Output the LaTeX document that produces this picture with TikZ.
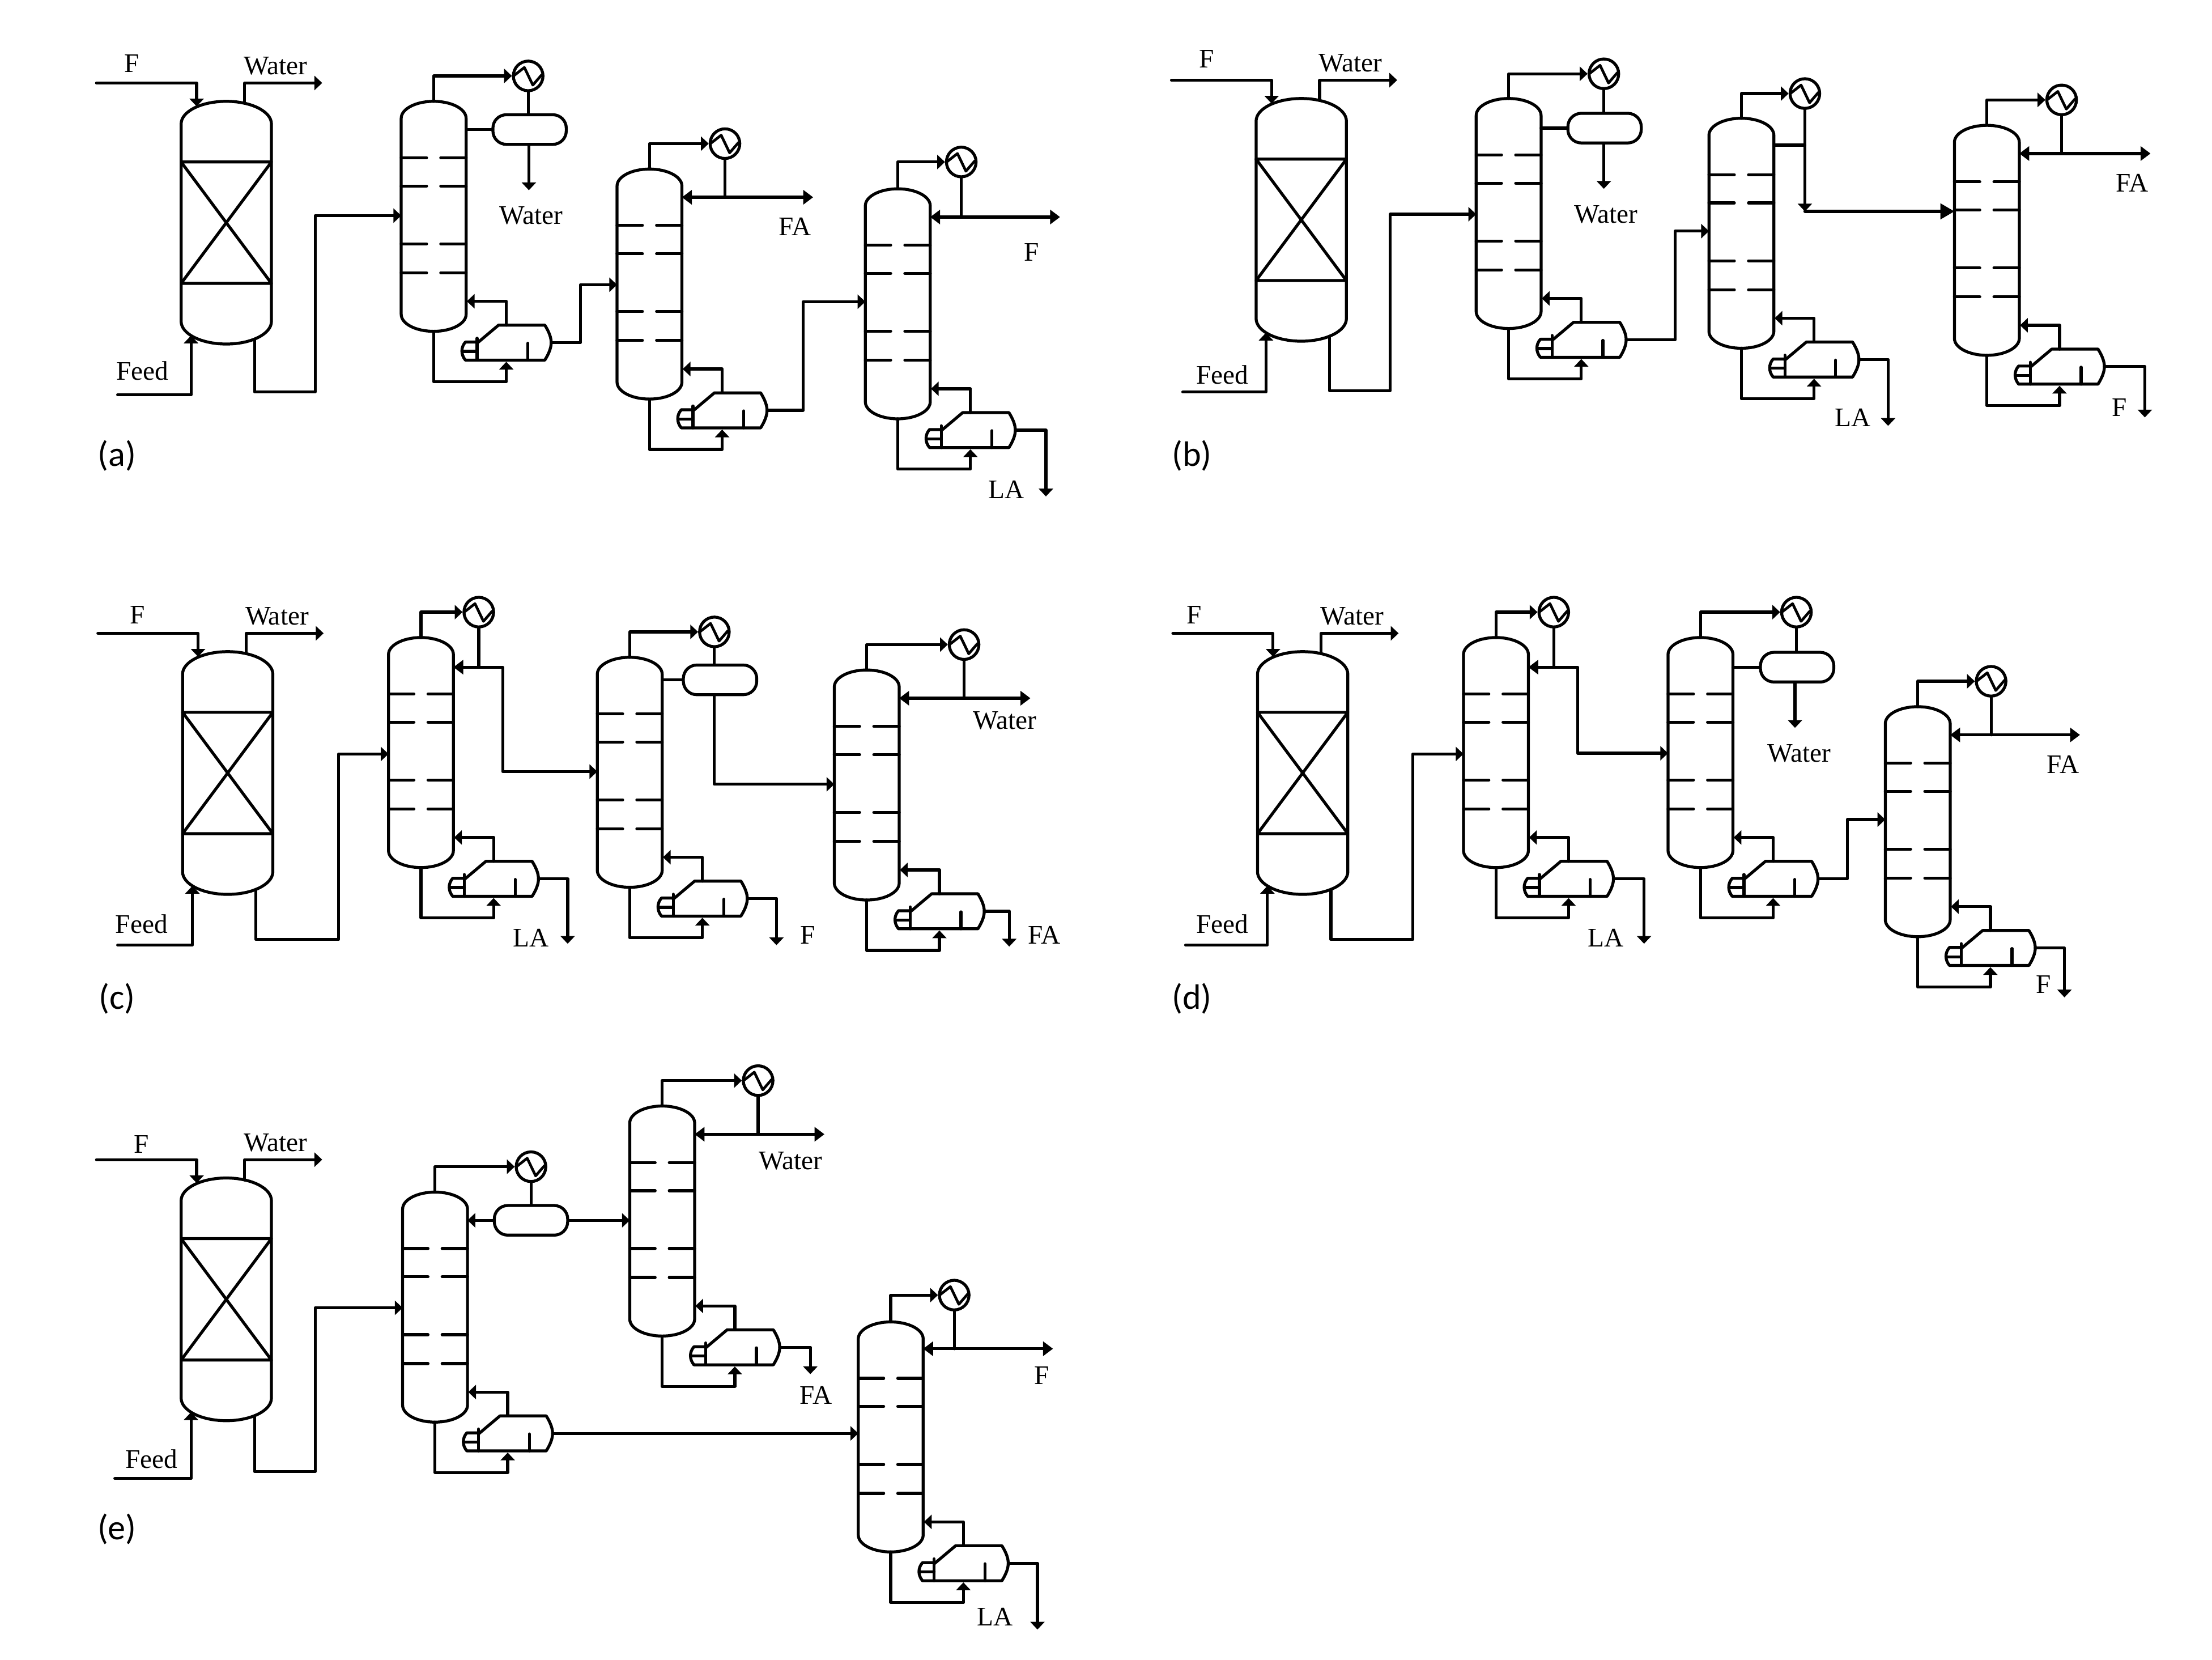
\documentclass[tikz,border=0pt]{standalone}
\usepackage{fontspec}
\setmainfont{Liberation Serif}
\newfontfamily\panelfont{Carlito}
\usetikzlibrary{arrows.meta}
\tikzset{
  pipe/.style={line width=2.1pt,line join=round,line cap=round},
  arr/.style={pipe,-{Triangle[length=5.5pt,width=10pt]}},
  arrbig/.style={pipe,-{Triangle[length=10pt,width=11pt]}},
  arrtwo/.style={pipe,{Triangle[length=7pt,width=10pt]}-{Triangle[length=7pt,width=10pt]}},
  condnode/.style={draw,circle,line width=2.1pt,minimum size=21pt,inner sep=0pt},
  drumnode/.style={draw,rectangle,rounded corners=9.5pt,line width=2.1pt,minimum width=52pt,minimum height=21pt,inner sep=0pt},
  lab/.style={font=\fontsize{19}{19}\selectfont,inner sep=0pt},
  panel/.style={font=\panelfont\fontsize{25}{25}\selectfont,inner sep=0pt},
}
% reactor with its F and Water lines
\newcommand\reactor[3]{%
  \begin{scope}[shift={(#2,#3)}]
    \draw[pipe] (0,16) .. controls (0,7.2) and (14.3,0) .. (32,0) .. controls (49.7,0) and (64,7.2) .. (64,16)
      -- (64,156) .. controls (64,164.8) and (49.7,172) .. (32,172) .. controls (14.3,172) and (0,164.8) .. (0,156) -- cycle;
    \draw[pipe] (0,43) -- (64,43) -- (0,129) -- (64,129) -- (0,43);
    \coordinate (#1-fin) at (11,3.6);
    \coordinate (#1-wout) at (45,1.4);
    \coordinate (#1-feed) at (7,166);
    \coordinate (#1-bot) at (52,168.5);
    \coordinate (#1-fs) at (-60,-13);
    \coordinate (#1-we) at (100,-13);
  \end{scope}
  \draw[arr] (#1-fs) -| (#1-fin);
  \draw[arr] (#1-wout) |- (#1-we);
}
% name, feed start x, feed y, bottom line y, bottom line x, next column, entry y
\newcommand\reactorpipes[7]{%
  \coordinate (#1-fds) at (#2,#3);
  \draw[arr] (#1-fds) -| (#1-feed);
  \draw[arr] (#1-bot) |- (#5,#4) |- (#6-l |- 0,#7);
}
% column with reboiler
\newcommand\column[3]{%
  \begin{scope}[shift={(#2,#3)}]
    \coordinate (#1-top) at (0,0);
    \coordinate (#1-l) at (-23,80);
    \coordinate (#1-r) at (23,80);
    \coordinate (#1-out) at (83.3,171);
    \draw[pipe] (-23,12) .. controls (-23,5.4) and (-12.7,0) .. (0,0) .. controls (12.7,0) and (23,5.4) .. (23,12)
      -- (23,151) .. controls (23,157.6) and (12.7,163) .. (0,163) .. controls (-12.7,163) and (-23,157.6) .. (-23,151) -- cycle;
    \foreach \ty in {40,60,101,121.5}{
      \draw[pipe] (-23,\ty) -- (-5,\ty);
      \draw[pipe] (5,\ty) -- (23,\ty);
    }
    \begin{scope}[shift={(30.8,183.4)}]
      \draw[pipe] (0,-12.8) -- (-8.3,-12.8) .. controls (-11.6,-9) and (-11.6,-4) .. (-8.3,0) -- (48,0)
        .. controls (51,-4.8) and (52.5,-8.8) .. (52.5,-12.4) .. controls (52.5,-16) and (51,-20) .. (48,-24.8)
        -- (15.2,-24.8) -- (0,-12);
      \draw[pipe] (0,-15.5) -- (0,0);
      \draw[pipe] (-10,-6.2) -- (0,-6.2);
      \draw[pipe] (36,0) -- (36,-12);
    \end{scope}
    \draw[arr] (51.5,158.6) |- (23.5,141.7);
    \draw[arr] (0,163) |- (51.5,198.7) -- (51.5,184.6);
  \end{scope}
}
% condenser: name, x, y, column
\newcommand\condenser[4]{%
  \node[condnode] (#1) at (#2,#3) {};
  \begin{scope}[shift={(#2,#3)}]
    \draw[pipe,line width=1.9pt] (-10,-0.3) -- (-2.7,-6) -- (3.3,6.5) -- (9.5,-0.7);
  \end{scope}
  \draw[arr] (#4-top) |- (#1.west);
}
\begin{document}
\begin{tikzpicture}[x=1pt,y=-1pt]
\useasboundingbox (-0.4,-0.8) rectangle (1567.6,1175.2);

% ---------- (a)
\reactor{a1}{128}{71}
\column{a2}{307}{71}
\column{a3}{460}{119}
\column{a4}{636}{133}
\reactorpipes{a1}{83}{279}{277}{223}{a2}{152}
\condenser{a2c}{374}{53}{a2}
\node[drumnode] (a2d) at (375,91) {};
\draw[pipe] (a2c) -- (a2c |- a2d.north);
\draw[pipe] (a2-r |- a2d.west) -- (a2d.west);
\coordinate (a2w) at (374.5,134);
\draw[arr] (a2d.south -| a2w) -- (a2w);
\draw[arr] (a2-out) -| (411,242) |- (a3-l |- 0,201);
\condenser{a3c}{513.5}{101}{a3}
\draw[arrtwo] (a3-r |- 0,139) -- (576,139);
\draw[pipe] (a3c) -- (a3c |- 0,139);
\draw[arr] (a3-out) -| (569,290) |- (a4-l |- 0,213);
\condenser{a4c}{681}{114}{a4}
\draw[arrtwo] (a4-r |- 0,153) -- (751,153);
\draw[pipe] (a4c) -- (a4c |- 0,153);
\coordinate (a4e) at (741,351);
\draw[arr] (a4-out) -| (a4e);
\node[lab] (tafa) at (93,44) {F};
\node[lab] (tawa) at (195,46) {Water};
\node[lab] (tafe) at (100.5,262) {Feed};
\node[lab] (tawb) at (376,152) {Water};
\node[lab] (tafa2) at (563,160) {FA};
\node[lab] (taf) at (731,178) {F};
\node[lab] (tala) at (713,346) {LA};
\node[panel] (pa) at (82.5,322) {(a)};

% ---------- (b)
\reactor{b1}{890}{69}
\column{b2}{1069}{69}
\column{b3}{1234}{83}
\column{b4}{1408}{88}
\reactorpipes{b1}{838}{277}{276}{985}{b2}{151}
\condenser{b2c}{1136.5}{51.5}{b2}
\node[drumnode] (b2d) at (1137,90) {};
\draw[pipe] (b2c) -- (b2c |- b2d.north);
\draw[pipe] (b2-r |- b2d.west) -- (b2d.west);
\coordinate (b2w) at (1136.5,133);
\draw[arr] (b2d.south -| b2w) -- (b2w);
\draw[arr] (b2-out) -| (1187,240) |- (b3-l |- 0,163);
\condenser{b3c}{1279}{65.5}{b3}
\coordinate (b3t) at (1279,149);
\draw[pipe] (b3-r |- 0,102) -- (b3c |- 0,102);
\draw[arr] (b3c) -- (b3t);
\draw[arrbig] (b3t) -- (b4-l |- b3t);
\coordinate (b3e) at (1338,301);
\draw[arr] (b3-out) -| (b3e);
\condenser{b4c}{1461}{70}{b4}
\draw[arrtwo] (b4-r |- 0,108) -- (1524,108);
\draw[pipe] (b4c) -- (b4c |- 0,108);
\coordinate (b4e) at (1520,295);
\draw[arr] (b4-out) -| (b4e);
\node[lab] (tbf) at (855,41) {F};
\node[lab] (tbw) at (957,44) {Water};
\node[lab] (tbfe) at (866,265) {Feed};
\node[lab] (tbwb) at (1138,151) {Water};
\node[lab] (tbla) at (1313,295) {LA};
\node[lab] (tbfa) at (1511,129) {FA};
\node[lab] (tbfb) at (1502,288) {F};
\node[panel] (pb) at (844.5,322) {(b)};

% ---------- (c)
\reactor{c1}{129}{461}
\column{c2}{298}{451}
\column{c3}{446}{465}
\column{c4}{614}{474}
\reactorpipes{c1}{83}{669}{665}{239.5}{c2}{533.5}
\condenser{c2c}{339}{433}{c2}
\draw[arrtwo,{Triangle[length=7pt,width=10pt]}-{Triangle[length=5.5pt,width=10pt]}] (c2-r |- 0,472) -- (356,472) |- (c3-l |- 0,546);
\draw[pipe] (c2c) -- (c2c |- 0,472);
\coordinate (c2e) at (402,668);
\draw[arr] (c2-out) -| (c2e);
\condenser{c3c}{506}{447}{c3}
\node[drumnode] (c3d) at (510,481) {};
\draw[pipe] (c3c) -- (c3c |- c3d.north);
\draw[pipe] (c3-r |- c3d.west) -- (c3d.west);
\draw[arr] (c3c |- c3d.south) |- (c4-l |- 0,555);
\coordinate (c3e) at (550,669);
\draw[arr] (c3-out) -| (c3e);
\condenser{c4c}{683}{456}{c4}
\draw[arrtwo] (c4-r |- 0,494) -- (730,494);
\draw[pipe] (c4c) -- (c4c |- 0,494);
\coordinate (c4e) at (715,670);
\draw[arr] (c4-out) -| (c4e);
\node[lab] (tcf) at (97,435) {F};
\node[lab] (tcw) at (196,436) {Water};
\node[lab] (tcfe) at (100,654) {Feed};
\node[lab] (tcla) at (376,664) {LA};
\node[lab] (tcfb) at (572,662) {F};
\node[lab] (tcwb) at (712,510) {Water};
\node[lab] (tcfa) at (740,662) {FA};
\node[panel] (pc) at (82.5,707) {(c)};

% ---------- (d)
\reactor{d1}{891}{461}
\column{d2}{1060}{451}
\column{d3}{1205}{451}
\column{d4}{1359}{500}
\reactorpipes{d1}{840}{669}{665}{1001}{d2}{533.5}
\condenser{d2c}{1101}{433}{d2}
\draw[arrtwo,{Triangle[length=7pt,width=10pt]}-{Triangle[length=5.5pt,width=10pt]}] (d2-r |- 0,472) -- (1118,472) |- (d3-l |- 0,533);
\draw[pipe] (d2c) -- (d2c |- 0,472);
\coordinate (d2e) at (1165,668);
\draw[arr] (d2-out) -| (d2e);
\condenser{d3c}{1273}{433}{d3}
\node[drumnode] (d3d) at (1273.5,472) {};
\draw[pipe] (d3c) -- (d3c |- d3d.north);
\draw[pipe] (d3-r |- d3d.west) -- (d3d.west);
\coordinate (d3w) at (1272,515);
\draw[arr] (d3d.south -| d3w) -- (d3w);
\draw[arr] (d3-out) -| (1309,622) |- (d4-l |- 0,580);
\condenser{d4c}{1411}{482}{d4}
\draw[arrtwo] (d4-r |- 0,520) -- (1474,520);
\draw[pipe] (d4c) -- (d4c |- 0,520);
\coordinate (d4e) at (1463,706);
\draw[arr] (d4-out) -| (d4e);
\node[lab] (tdf) at (846,435) {F};
\node[lab] (tdw) at (958,436) {Water};
\node[lab] (tdfe) at (866,654) {Feed};
\node[lab] (tdla) at (1138,664) {LA};
\node[lab] (tdwb) at (1275,533) {Water};
\node[lab] (tdfa) at (1462,541) {FA};
\node[lab] (tdfb) at (1448,697) {F};
\node[panel] (pd) at (844.5,707) {(d)};

% ---------- (e)
\reactor{e1}{128}{834}
\column{e2}{308}{844}
\column{e3}{469}{783}
\column{e4}{631}{936}
\reactorpipes{e1}{81}{1047}{1042}{223}{e2}{926}
\condenser{e2c}{376}{826}{e2}
\node[drumnode] (e2d) at (376,864) {};
\draw[pipe] (e2c) -- (e2c |- e2d.north);
\draw[arr] (e2d.west) -- (e2-r |- e2d.west);
\draw[arr] (e2d.east) -- (e3-l |- e2d.east);
\draw[arr] (e2-out) -- (e4-l |- e2-out);
\condenser{e3c}{537}{765}{e3}
\draw[arrtwo] (e3-r |- 0,803) -- (584,803);
\draw[pipe] (e3c) -- (e3c |- 0,803);
\coordinate (e3e) at (574,973);
\draw[arr] (e3-out) -| (e3e);
\condenser{e4c}{676}{917}{e4}
\draw[arrtwo] (e4-r |- 0,955) -- (746,955);
\draw[pipe] (e4c) -- (e4c |- 0,955);
\coordinate (e4e) at (735,1154);
\draw[arr] (e4-out) -| (e4e);
\node[lab] (tef) at (100,810) {F};
\node[lab] (tew) at (195,809) {Water};
\node[lab] (tefe) at (107,1033) {Feed};
\node[lab] (tewb) at (560,822) {Water};
\node[lab] (tefa) at (578,988) {FA};
\node[lab] (tefb) at (738,974) {F};
\node[lab] (tela) at (705,1145) {LA};
\node[panel] (pe) at (82.5,1083) {(e)};
\end{tikzpicture}
\end{document}
